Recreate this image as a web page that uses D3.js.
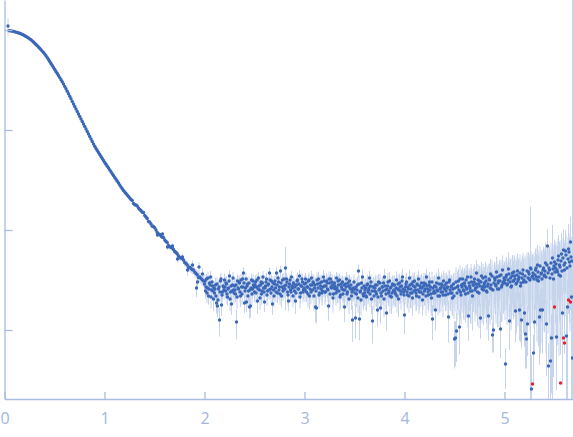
<!DOCTYPE html>
<html><head><meta charset="utf-8">
<script src="https://cdn.jsdelivr.net/npm/d3@7"></script>
<style>html,body{margin:0;padding:0;background:#fff;overflow:hidden}</style>
</head><body>
<svg id="c" width="573" height="437"></svg>
<script>
// ---- data (q in nm^-1, log10 intensity, sigma in units of 1e-4) ----
const qCurve = [0.035,0.045,0.065,0.09,0.115,0.14,0.165,0.19,0.215,0.24,0.265,0.29,0.315,0.34,0.365,0.39,0.415,0.44,0.465,0.49,
0.515,0.54,0.565,0.59,0.615,0.64,0.665,0.69,0.715,0.74,0.765,0.79,0.815,0.84,0.865,0.89,0.915,0.94,0.965,0.99,
1.015,1.04,1.065,1.09,1.115,1.14,1.165,1.19,1.215,1.24,1.265,1.29,1.315,1.34,1.365,1.39,1.415,1.44,1.465,1.49,
1.515,1.54,1.565,1.59,1.615,1.64,1.665,1.69,1.715,1.74,1.765,1.79,1.815,1.84,1.865,1.89,1.915,1.94,1.965,1.99,
1.53,1.58,1.63,1.68,1.73,1.78,1.83,1.88,1.93,1.98,1.92,1.945];
const logCurve = [0.04,-0.006,-0.009,-0.014,-0.021,-0.029,-0.038,-0.050,-0.064,-0.080,-0.098,-0.120,-0.145,-0.170,-0.197,-0.225,-0.257,-0.295,-0.335,-0.375,
-0.415,-0.455,-0.497,-0.540,-0.588,-0.638,-0.688,-0.740,-0.790,-0.840,-0.890,-0.940,-0.990,-1.040,-1.090,-1.140,-1.185,-1.225,-1.265,-1.305,
-1.343,-1.380,-1.418,-1.455,-1.493,-1.530,-1.570,-1.605,-1.635,-1.665,-1.695,-1.735,-1.750,-1.780,-1.805,-1.825,-1.870,-1.915,-1.940,-1.965,
-2.000,-2.040,-2.060,-2.075,-2.115,-2.155,-2.175,-2.195,-2.225,-2.260,-2.280,-2.300,-2.335,-2.375,-2.385,-2.400,-2.435,-2.475,-2.485,-2.510,
-2.05,-2.04,-2.17,-2.16,-2.29,-2.27,-2.40,-2.35,-2.52,-2.44,-2.58,-2.37];
const sigCurve = [2200,30,30,30,30,30,30,30,30,30,30,30,30,30,30,30,30,30,30,30,
15,15,15,15,15,15,15,15,15,15,15,15,15,15,15,15,15,15,15,15,
6,6,6,6,6,6,6,6,6,6,6,6,6,6,6,6,6,6,6,6,
4,4,4,4,4,4,4,4,4,4,4,4,4,4,4,4,4,4,4,4,
4,4,4,4,4,4,5,5,5,5,5,5];

const qCurve2 = [0.055,0.0775,0.1025,0.1275,0.1525,0.1775,0.2025,0.2275,0.2525,0.2775,0.3025,0.3275,0.3525,0.3775,0.4025,0.4275,0.4525,0.4775,
0.5025,0.5275,0.5525,0.5775,0.6025,0.6275,0.6525,0.6775,0.7025,0.7275,0.7525,0.7775,0.8025,0.8275,0.8525,0.8775,0.9025,0.9275,0.9525,0.9775,
1.0025,1.0275,1.0525,1.0775,1.1025,1.1275,1.1525,1.1775,1.2025,1.2275,1.2525,1.2775,1.3025,1.3275,1.3525,1.3775,1.4025,1.4275,1.4525,1.4775,
1.5025,1.5275,1.5525,1.5775,1.6025,1.6275,1.6525,1.6775,1.7025,1.7275,1.7525,1.7775,1.8025,1.8275,1.8525,1.8775,1.9025,1.9275,1.9525,1.9775];
const logCurve2 = [-0.007,-0.011,-0.017,-0.025,-0.033,-0.044,-0.057,-0.072,-0.089,-0.109,-0.132,-0.157,-0.183,-0.211,-0.241,-0.276,-0.315,-0.355,
-0.395,-0.435,-0.476,-0.518,-0.564,-0.613,-0.663,-0.714,-0.765,-0.815,-0.865,-0.915,-0.965,-1.015,-1.065,-1.115,-1.163,-1.205,-1.245,-1.285,
-1.324,-1.362,-1.399,-1.437,-1.474,-1.512,-1.550,-1.588,-1.620,-1.650,-1.680,-1.705,-1.748,-1.760,-1.795,-1.822,-1.855,-1.885,-1.920,-1.962,
-1.978,-2.025,-2.045,-2.072,-2.100,-2.125,-2.168,-2.180,-2.215,-2.238,-2.275,-2.285,-2.325,-2.350,-2.372,-2.398,-2.420,-2.448,-2.470,-2.500];
const sigCurve2 = [30,30,30,30,30,30,30,30,30,30,30,30,30,30,30,30,30,30,
15,15,15,15,15,15,15,15,15,15,15,15,15,15,15,15,15,15,15,15,
6,6,6,6,6,6,6,6,6,6,6,6,6,6,6,6,6,6,6,6,
4,4,4,4,4,4,4,4,4,4,4,4,4,4,4,4,4,4,4,4];

const qTail = [
2.00,2.01,2.02,2.03,2.04,2.05,2.06,2.07,2.08,2.09,
2.10,2.11,2.12,2.13,2.14,2.15,2.16,2.17,2.18,2.19,
2.20,2.21,2.22,2.23,2.24,2.25,2.26,2.27,2.28,2.29,
2.30,2.31,2.32,2.33,2.34,2.35,2.36,2.37,2.38,2.39,
2.40,2.41,2.42,2.43,2.44,2.45,2.46,2.47,2.48,2.49,
2.50,2.51,2.52,2.53,2.54,2.55,2.56,2.57,2.58,2.59,
2.60,2.61,2.62,2.63,2.64,2.65,2.66,2.67,2.68,2.69,
2.70,2.71,2.72,2.73,2.74,2.75,2.76,2.77,2.78,2.79,
2.80,2.81,2.82,2.83,2.84,2.85,2.86,2.87,2.88,2.89,
2.90,2.91,2.92,2.93,2.94,2.95,2.96,2.97,2.98,2.99,
3.00,3.01,3.02,3.03,3.04,3.05,3.06,3.07,3.08,3.09,
3.10,3.11,3.12,3.13,3.14,3.15,3.16,3.17,3.18,3.19,
3.20,3.21,3.22,3.23,3.24,3.25,3.26,3.27,3.28,3.29,
3.30,3.31,3.32,3.33,3.34,3.35,3.36,3.37,3.38,3.39,
3.40,3.41,3.42,3.43,3.44,3.45,3.46,3.47,3.48,3.49,
3.50,3.51,3.52,3.53,3.54,3.55,3.56,3.57,3.58,3.59,
3.60,3.61,3.62,3.63,3.64,3.65,3.66,3.67,3.68,3.69,
3.70,3.71,3.72,3.73,3.74,3.75,3.76,3.77,3.78,3.79,
3.80,3.81,3.82,3.83,3.84,3.85,3.86,3.87,3.88,3.89,
3.90,3.91,3.92,3.93,3.94,3.95,3.96,3.97,3.98,3.99,
4.00,4.01,4.02,4.03,4.04,4.05,4.06,4.07,4.08,4.09,
4.10,4.11,4.12,4.13,4.14,4.15,4.16,4.17,4.18,4.19,
4.20,4.21,4.22,4.23,4.24,4.25,4.26,4.27,4.28,4.29,
4.30,4.31,4.32,4.33,4.34,4.35,4.36,4.37,4.38,4.39,
4.40,4.41,4.42,4.43,4.44,4.45,4.46,4.47,4.48,4.49,
4.50,4.51,4.52,4.53,4.54,4.55,4.56,4.57,4.58,4.59,
4.60,4.61,4.62,4.63,4.64,4.65,4.66,4.67,4.68,4.69,
4.70,4.71,4.72,4.73,4.74,4.75,4.76,4.77,4.78,4.79,
4.80,4.81,4.82,4.83,4.84,4.85,4.86,4.87,4.88,4.89,
4.90,4.91,4.92,4.93,4.94,4.95,4.96,4.97,4.98,4.99,
5.00,5.01,5.02,5.03,5.04,5.05,5.06,5.07,5.08,5.09,
5.10,5.11,5.12,5.13,5.14,5.15,5.16,5.17,5.18,5.19,
5.20,5.21,5.22,5.23,5.24,5.25,5.26,5.27,5.28,5.29,
5.30,5.31,5.32,5.33,5.34,5.35,5.36,5.37,5.38,5.39,
5.40,5.41,5.42,5.43,5.44,5.45,5.46,5.47,5.48,5.49,
5.50,5.51,5.52,5.53,5.54,5.55,5.56,5.57,5.58,5.59,
5.60,5.61,5.62,5.63,5.64,5.65,5.66,5.67,5.68];
const logTail = [
-2.54,-2.61,-2.49,-2.58,-2.66,-2.53,-2.47,-2.60,-2.56,-2.69,
-2.63,-2.55,-2.73,-2.76,-2.59,-2.90,-2.51,-2.75,-2.62,-2.57,
-2.50,-2.61,-2.54,-2.67,-2.58,-2.46,-2.62,-2.74,-2.55,-2.60,
-2.56,-2.64,-2.92,-2.51,-2.59,-2.53,-2.66,-2.57,-2.49,-2.43,
-2.73,-2.58,-2.72,-2.54,-2.61,-2.77,-2.76,-2.50,-2.59,-2.55,
-2.62,-2.52,-2.57,-2.71,-2.48,-2.60,-2.55,-2.64,-2.53,-2.58,
-2.72,-2.56,-2.49,-2.61,-2.54,-2.43,-2.59,-2.51,-2.74,-2.60,
-2.54,-2.58,-2.43,-2.63,-2.52,-2.57,-2.41,-2.66,-2.50,-2.59,
-2.56,-2.38,-2.49,-2.62,-2.71,-2.54,-2.60,-2.47,-2.58,-2.53,
-2.61,-2.71,-2.55,-2.50,-2.59,-2.46,-2.63,-2.56,-2.52,-2.60,
-2.54,-2.49,-2.62,-2.57,-2.51,-2.66,-2.55,-2.48,-2.60,-2.53,
-2.58,-2.77,-2.78,-2.54,-2.49,-2.63,-2.56,-2.52,-2.61,-2.47,
-2.56,-2.62,-2.51,-2.59,-2.76,-2.53,-2.49,-2.58,-2.55,-2.64,
-2.53,-2.59,-2.48,-2.61,-2.55,-2.50,-2.65,-2.57,-2.52,-2.60,
-2.77,-2.54,-2.49,-2.62,-2.56,-2.51,-2.59,-2.66,-2.90,-2.58,
-2.59,-2.88,-2.64,-2.55,-2.41,-2.89,-2.61,-2.53,-2.47,-2.66,
-2.63,-2.58,-2.67,-2.54,-2.60,-2.48,-2.56,-2.69,-2.91,-2.57,
-2.61,-2.55,-2.64,-2.80,-2.52,-2.59,-2.78,-2.66,-2.57,-2.53,
-2.47,-2.60,-2.83,-2.56,-2.63,-2.51,-2.58,-2.67,-2.54,-2.61,
-2.55,-2.64,-2.50,-2.59,-2.69,-2.53,-2.61,-2.56,-2.47,-2.62,
-2.85,-2.57,-2.52,-2.65,-2.59,-2.48,-2.63,-2.54,-2.68,-2.56,
-2.51,-2.60,-2.66,-2.55,-2.49,-2.62,-2.58,-2.53,-2.70,-2.56,
-2.61,-2.54,-2.47,-2.59,-2.65,-2.52,-2.57,-2.68,-2.89,-2.63,
-2.56,-2.80,-2.53,-2.61,-2.48,-2.66,-2.58,-2.54,-2.62,-2.51,
-2.59,-2.65,-2.53,-2.57,-2.87,-2.50,-2.63,-2.56,-2.68,-2.54,
-3.09,-3.08,-3.01,-2.57,-2.51,-2.97,-2.62,-2.55,-2.49,-2.60,
-2.53,-2.64,-2.58,-2.47,-2.86,-2.56,-2.61,-2.52,-2.66,-2.55,
-2.49,-2.58,-2.43,-2.62,-2.54,-2.51,-2.88,-2.46,-2.57,-2.60,
-2.53,-2.47,-2.61,-2.56,-2.86,-2.50,-2.44,-2.59,-3.05,-3.00,
-2.48,-2.55,-2.42,-2.59,-2.51,-2.46,-2.99,-2.57,-2.40,-2.53,
-2.50,-3.34,-2.45,-2.54,-2.39,-2.91,-2.48,-2.56,-2.43,-2.51,
-2.46,-2.81,-2.53,-2.41,-2.49,-2.80,-2.56,-2.90,-2.44,-2.52,
-2.83,-3.04,-3.09,-2.94,-2.42,-2.49,-2.38,-3.59,-2.46,-3.23,
-2.92,-2.40,-2.47,-2.35,-2.51,-2.87,-2.80,-2.43,-2.80,-2.38,
-2.45,-2.33,-2.94,-2.16,-3.36,-2.40,-3.31,-3.08,-2.28,-2.49,
-2.32,-2.38,-3.07,-2.42,-2.26,-2.35,-2.46,-2.24,-2.83,-2.20,
-2.40,-2.21,-3.06,-2.77,-2.19,-2.32,-2.12,-2.67,-3.28];
const sigTail = [
4,4,4,5,4,4,5,4,4,5,
4,5,4,4,5,4,5,4,4,5,
5,4,5,4,5,5,4,4,5,4,
5,4,4,5,5,4,5,5,4,5,
4,5,4,5,5,4,4,5,5,4,
5,5,4,5,5,5,4,5,5,5,
4,5,5,5,5,5,5,5,4,5,
5,5,5,5,5,6,5,5,5,5,
5,26,5,5,4,5,6,5,5,5,
5,5,5,6,5,5,5,6,5,5,
6,5,5,6,5,6,5,6,5,6,
5,5,5,6,6,5,6,5,6,6,
6,5,6,5,5,6,6,5,6,5,
6,6,5,6,6,5,6,6,5,6,
5,6,6,6,6,5,6,6,5,6,
6,5,6,6,6,5,6,6,6,6,
6,6,6,7,6,6,6,6,5,7,
6,7,6,5,6,7,5,6,7,6,
7,6,5,7,6,7,6,7,6,7,
7,6,7,6,7,7,6,7,7,6,
5,7,7,6,7,7,7,6,7,7,
7,7,6,7,7,8,7,7,6,7,
7,8,7,7,7,8,7,7,5,8,
8,6,8,7,8,7,8,8,7,8,
8,7,8,8,6,8,8,8,7,8,
4,4,5,11,10,5,11,12,10,12,
12,11,13,12,6,12,13,12,12,13,
13,12,13,13,12,13,5,13,13,14,
13,14,13,14,6,14,15,13,3,4,
15,14,16,15,14,15,5,15,16,15,
16,2,18,16,19,6,18,16,19,18,
19,8,20,19,18,8,20,6,19,21,
8,5,4,6,22,21,130,3,22,3,
6,24,23,26,24,9,10,25,10,26,
26,28,8,32,3,28,4,6,60,29,
32,30,6,31,34,32,29,36,12,38,
34,38,8,15,50,36,60,20,25000];

const qTail2 = [
2.005,2.015,2.025,2.035,2.045,2.055,2.065,2.075,2.085,2.095,
2.105,2.115,2.125,2.135,2.145,2.155,2.165,2.175,2.185,2.195,
2.205,2.215,2.225,2.235,2.245,2.255,2.265,2.275,2.285,2.295,
2.305,2.315,2.325,2.335,2.345,2.355,2.365,2.375,2.385,2.395,
2.405,2.415,2.425,2.435,2.445,2.455,2.465,2.475,2.485,2.495,
2.505,2.515,2.525,2.535,2.545,2.555,2.565,2.575,2.585,2.595,
2.605,2.615,2.625,2.635,2.645,2.655,2.665,2.675,2.685,2.695,
2.705,2.715,2.725,2.735,2.745,2.755,2.765,2.775,2.785,2.795,
2.805,2.815,2.825,2.835,2.845,2.855,2.865,2.875,2.885,2.895,
2.905,2.915,2.925,2.935,2.945,2.955,2.965,2.975,2.985,2.995,
3.005,3.015,3.025,3.035,3.045,3.055,3.065,3.075,3.085,3.095,
3.105,3.115,3.125,3.135,3.145,3.155,3.165,3.175,3.185,3.195,
3.205,3.215,3.225,3.235,3.245,3.255,3.265,3.275,3.285,3.295,
3.305,3.315,3.325,3.335,3.345,3.355,3.365,3.375,3.385,3.395,
3.405,3.415,3.425,3.435,3.445,3.455,3.465,3.475,3.485,3.495,
3.505,3.515,3.525,3.535,3.545,3.555,3.565,3.575,3.585,3.595,
3.605,3.615,3.625,3.635,3.645,3.655,3.665,3.675,3.685,3.695,
3.705,3.715,3.725,3.735,3.745,3.755,3.765,3.775,3.785,3.795,
3.805,3.815,3.825,3.835,3.845,3.855,3.865,3.875,3.885,3.895,
3.905,3.915,3.925,3.935,3.945,3.955,3.965,3.975,3.985,3.995,
4.005,4.015,4.025,4.035,4.045,4.055,4.065,4.075,4.085,4.095,
4.105,4.115,4.125,4.135,4.145,4.155,4.165,4.175,4.185,4.195,
4.205,4.215,4.225,4.235,4.245,4.255,4.265,4.275,4.285,4.295,
4.305,4.315,4.325,4.335,4.345,4.355,4.365,4.375,4.385,4.395,
4.405,4.415,4.425,4.435,4.445,4.455,4.465,4.475,4.485,4.495,
4.505,4.515,4.525,4.535,4.545,4.555,4.565,4.575,4.585,4.595,
4.605,4.615,4.625,4.635,4.645,4.655,4.665,4.675,4.685,4.695,
4.705,4.715,4.725,4.735,4.745,4.755,4.765,4.775,4.785,4.795,
4.805,4.815,4.825,4.835,4.845,4.855,4.865,4.875,4.885,4.895,
4.905,4.915,4.925,4.935,4.945,4.955,4.965,4.975,4.985,4.995,
5.005,5.015,5.025,5.035,5.045,5.055,5.065,5.075,5.085,5.095,
5.105,5.115,5.125,5.135,5.145,5.155,5.165,5.175,5.185,5.195,
5.205,5.215,5.225,5.235,5.245,5.255,5.265,5.275,5.285,5.295,
5.305,5.315,5.325,5.335,5.345,5.355,5.365,5.375,5.385,5.395,
5.405,5.415,5.425,5.435,5.445,5.455,5.465,5.475,5.485,5.495,
5.505,5.515,5.525,5.535,5.545,5.555,5.565,5.575,5.585,5.595,
5.605,5.615,5.625,5.635,5.645,5.655,5.665,5.675];
const logTail2 = [
-2.51,-2.57,-2.63,-2.48,-2.59,-2.55,-2.67,-2.52,-2.61,-2.58,
-2.59,-2.66,-2.54,-2.70,-2.57,-2.62,-2.49,-2.65,-2.56,-2.60,
-2.57,-2.53,-2.64,-2.59,-2.51,-2.69,-2.56,-2.61,-2.48,-2.63,
-2.60,-2.55,-2.67,-2.58,-2.52,-2.62,-2.50,-2.64,-2.57,-2.53,
-2.61,-2.49,-2.56,-2.66,-2.53,-2.60,-2.58,-2.64,-2.51,-2.57,
-2.55,-2.63,-2.50,-2.59,-2.56,-2.68,-2.52,-2.61,-2.47,-2.62,
-2.58,-2.52,-2.65,-2.55,-2.60,-2.50,-2.63,-2.57,-2.53,-2.66,
-2.51,-2.62,-2.55,-2.48,-2.60,-2.64,-2.53,-2.57,-2.61,-2.49,
-2.59,-2.55,-2.52,-2.65,-2.57,-2.50,-2.62,-2.56,-2.66,-2.54,
-2.57,-2.63,-2.51,-2.59,-2.54,-2.67,-2.56,-2.49,-2.62,-2.58,
-2.60,-2.53,-2.57,-2.64,-2.50,-2.59,-2.62,-2.55,-2.52,-2.66,
-2.55,-2.61,-2.50,-2.58,-2.65,-2.53,-2.59,-2.63,-2.57,-2.51,
-2.62,-2.56,-2.53,-2.60,-2.49,-2.64,-2.57,-2.52,-2.68,-2.58,
-2.56,-2.63,-2.58,-2.51,-2.61,-2.67,-2.54,-2.59,-2.64,-2.55,
-2.60,-2.57,-2.64,-2.53,-2.69,-2.58,-2.55,-2.62,-2.60,-2.52,
-2.63,-2.57,-2.60,-2.68,-2.54,-2.62,-2.70,-2.58,-2.64,-2.56,
-2.60,-2.66,-2.55,-2.62,-2.58,-2.64,-2.52,-2.61,-2.57,-2.66,
-2.58,-2.62,-2.55,-2.67,-2.60,-2.53,-2.63,-2.57,-2.61,-2.69,
-2.56,-2.64,-2.59,-2.52,-2.61,-2.66,-2.57,-2.63,-2.55,-2.60,
-2.62,-2.58,-2.66,-2.54,-2.60,-2.57,-2.64,-2.51,-2.59,-2.65,
-2.60,-2.54,-2.62,-2.57,-2.66,-2.55,-2.59,-2.63,-2.52,-2.61,
-2.57,-2.63,-2.54,-2.60,-2.67,-2.56,-2.62,-2.58,-2.64,-2.53,
-2.59,-2.66,-2.56,-2.62,-2.55,-2.60,-2.64,-2.52,-2.58,-2.61,
-2.63,-2.57,-2.60,-2.66,-2.54,-2.59,-2.62,-2.56,-2.65,-2.58,
-2.55,-2.61,-2.58,-2.64,-2.52,-2.60,-2.57,-2.63,-2.59,-2.66,
-2.58,-2.52,-2.63,-2.56,-2.60,-2.49,-2.65,-2.57,-2.54,-2.61,
-2.56,-2.50,-2.59,-2.63,-2.53,-2.58,-2.47,-2.61,-2.55,-2.52,
-2.60,-2.54,-2.57,-2.50,-2.63,-2.56,-2.52,-2.59,-2.48,-2.55,
-2.57,-2.51,-2.62,-2.54,-2.49,-2.58,-2.55,-2.46,-2.60,-2.53,
-2.50,-2.56,-2.47,-2.53,-2.59,-2.51,-2.45,-2.55,-2.52,-2.48,
-2.53,-2.47,-2.55,-2.50,-2.44,-2.52,-2.57,-2.46,-2.51,-2.42,
-2.49,-2.54,-2.45,-2.51,-2.47,-2.43,-2.53,-2.48,-2.40,-2.50,
-2.46,-2.52,-2.41,-2.48,-2.44,-2.50,-2.39,-2.47,-2.43,-2.49,
-2.45,-2.38,-2.50,-2.42,-2.47,-2.36,-2.44,-2.49,-2.40,-2.46,
-2.41,-2.47,-2.35,-2.43,-2.38,-2.48,-2.33,-2.44,-2.39,-2.36,
-2.42,-2.34,-2.40,-2.30,-2.45,-2.37,-2.31,-2.41,-2.28,-2.35,
-2.33,-2.25,-2.38,-2.29,-2.22,-2.36,-2.27,-2.31];
const sigTail2 = [
5,5,5,5,5,5,5,5,5,5,
5,5,5,5,5,5,5,5,5,5,
5,5,5,5,5,5,5,5,5,5,
5,5,5,5,5,5,5,5,5,5,
5,5,5,5,5,5,5,5,5,5,
5,5,5,5,5,5,5,5,5,5,
5,5,5,5,5,5,5,5,5,5,
5,5,5,5,5,5,5,5,5,5,
5,5,5,5,5,5,5,5,5,5,
5,5,5,5,5,5,5,5,5,5,
6,6,6,6,6,6,6,6,6,6,
6,6,6,6,6,6,6,6,6,6,
6,6,6,6,6,6,6,6,6,6,
6,6,6,6,6,6,6,6,6,6,
6,6,6,6,6,6,6,6,6,6,
6,6,6,6,6,6,6,6,6,6,
6,6,6,6,6,6,6,6,6,6,
7,7,7,7,7,7,7,7,7,7,
7,7,7,7,7,7,7,7,7,7,
7,7,7,7,7,7,7,7,7,7,
7,7,7,7,7,7,7,7,7,7,
7,8,7,8,7,8,7,8,7,8,
8,8,8,8,8,8,8,8,8,8,
8,8,9,8,9,8,9,8,9,8,
9,9,9,9,9,9,9,9,9,9,
11,12,11,12,11,12,11,12,11,12,
12,13,12,13,12,13,12,13,12,13,
13,14,13,14,13,14,13,14,13,14,
14,15,14,15,14,15,14,15,14,15,
15,16,15,16,15,16,15,16,15,16,
17,18,17,18,17,18,17,18,17,18,
19,20,19,20,19,20,19,20,19,20,
21,22,21,22,21,22,21,22,21,22,
24,25,24,25,24,25,24,25,24,25,
27,28,27,28,27,28,27,28,27,28,
30,31,30,31,30,31,30,31,30,31,
33,34,33,34,33,34,33,34];

const qFlag = [5.28,5.50,5.56,5.59,5.60,5.64,5.66];
const logFlag = [-3.54,-2.77,-3.53,-3.08,-3.13,-2.70,-2.72];

const xTicks = [0,1,2,3,4,5];
const yTicks = [1,0.1,0.01,0.001];

// ---- chart ----
const svg = d3.select("#c");
const x = d3.scaleLinear().domain([0,5.685]).range([4.5,573]);
const y = d3.scaleLog().domain([Math.pow(10,-3.69), Math.pow(10,0.3)]).range([399,0]);
const yMin = y.domain()[0];

function rows(qs, ls, ss){
  const n = Math.min(qs.length, ls.length, ss.length);
  return qs.slice(0,n).map((q,i)=>({q, I:Math.pow(10,ls[i]), s:ss[i]*1e-4}));
}
const pts = rows(qCurve,logCurve,sigCurve)
  .concat(rows(qCurve2,logCurve2,sigCurve2))
  .concat(rows(qTail,logTail,sigTail))
  .concat(rows(qTail2,logTail2,sigTail2));
const flags = qFlag.map((q,i)=>({q, I:Math.pow(10,logFlag[i])}));

svg.append("defs").append("clipPath").attr("id","clip")
  .append("rect").attr("x",4.5).attr("y",0).attr("width",568.5).attr("height",399);

const plot = svg.append("g").attr("clip-path","url(#clip)");

plot.append("g").selectAll("line").data(pts).join("line")
  .attr("x1",d=>x(d.q)).attr("x2",d=>x(d.q))
  .attr("y1",d=>Math.max(-5,y(d.I+d.s)))
  .attr("y2",d=>d.I-d.s>yMin ? y(d.I-d.s) : 405)
  .attr("stroke","#c6d4ec").attr("stroke-width",1);

plot.append("g").selectAll("circle").data(pts).join("circle")
  .attr("cx",d=>x(d.q)).attr("cy",d=>y(d.I)).attr("r",1.7)
  .attr("fill","#3a67b8");

plot.append("g").selectAll("circle").data(flags).join("circle")
  .attr("cx",d=>x(d.q)).attr("cy",d=>y(d.I)).attr("r",1.7)
  .attr("fill","#e8212b");

const axisColor = "#a9bce2";
const gy = svg.append("g").attr("transform","translate(4.5,0)")
  .call(d3.axisRight(y).tickValues(yTicks).tickFormat("").tickSizeInner(8).tickSizeOuter(0));
const gx = svg.append("g").attr("transform","translate(0,399)")
  .call(d3.axisBottom(x).tickValues(xTicks).tickFormat(d3.format("d")).tickSizeInner(-7).tickSizeOuter(0).tickPadding(14));
[gx,gy].forEach(g=>{
  g.select(".domain").attr("stroke",axisColor).attr("stroke-width",1.3);
  g.selectAll(".tick line").attr("stroke",axisColor).attr("stroke-width",1.3);
});
gx.selectAll(".tick text").attr("fill","#a3b7df").attr("font-size",16)
  .attr("font-family","'Open Sans', sans-serif");
</script>
</body></html>
